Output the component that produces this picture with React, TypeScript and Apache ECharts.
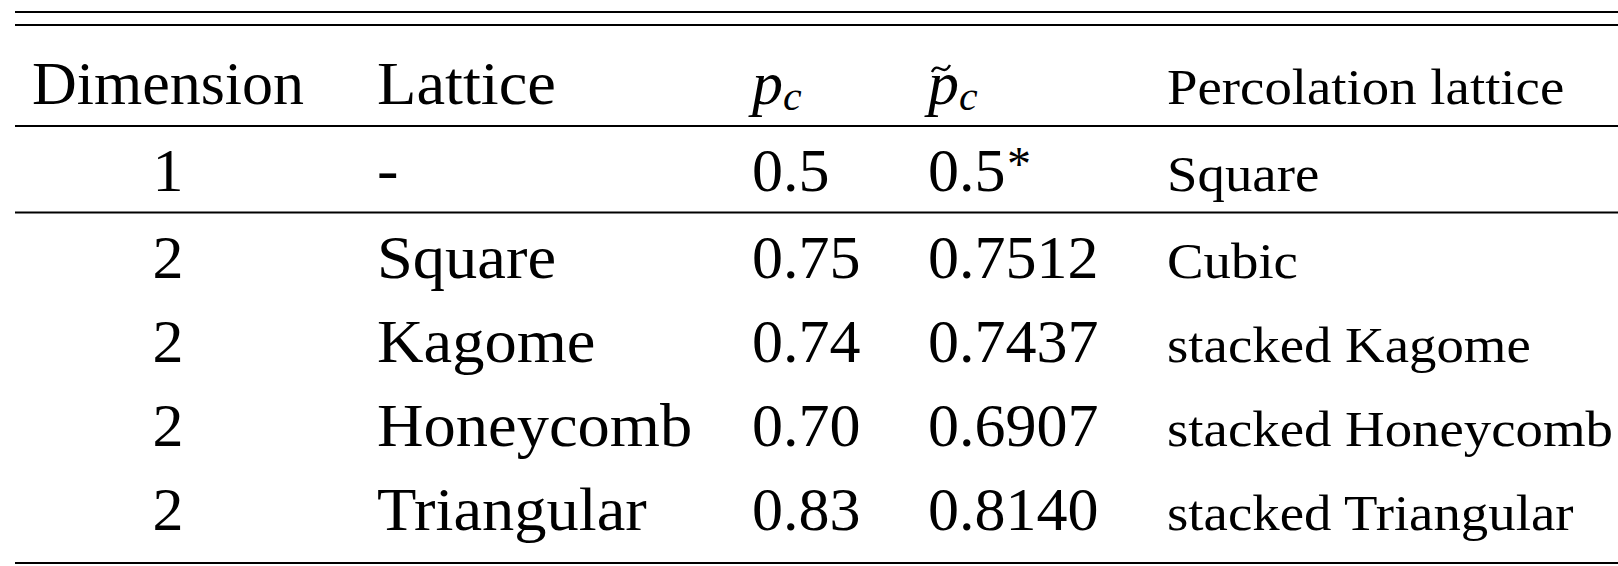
import React, { useEffect, useRef } from "react";
import * as echarts from "echarts";

// ---- table data ----
const dimensions = ["1", "2", "2", "2", "2"];
const lattices = ["-", "Square", "Kagome", "Honeycomb", "Triangular"];
const pcValues = ["0.5", "0.75", "0.74", "0.70", "0.83"];
const pcTildeValues = ["0.5", "0.7512", "0.7437", "0.6907", "0.8140"];
const pcTildeMarks = ["*", "", "", "", ""];
const percolationLattices = ["Square", "Cubic", "stacked Kagome", "stacked Honeycomb", "stacked Triangular"];
const headerLabels = ["Dimension", "Lattice", "p", "p", "Percolation lattice"];
const headerSubscripts = ["", "", "c", "c", ""];

// ---- layout ----
const W = 1618;
const H = 566;
const FAMILY = '"Liberation Serif", "Times New Roman", serif';
const FS = 62;
const FS_SMALL = 51;
const FS_SUB = 42;
const colX = [168, 377, 752, 928, 1167];
const colStretch = [1, 1.04, 1, 1, 1.075];
const headerBaseline = 104;
const rowBaselines = [190.7, 278, 362, 446, 530];
const ruleYs = [12, 25, 126, 212.5, 563];

function txt(text: string, x: number, baseline: number, fs: number, opts: any = {}) {
  const italic = opts.italic ? "italic " : "";
  return {
    type: "text",
    x,
    y: baseline - 0.3375 * fs,
    scaleX: opts.stretch || 1,
    silent: true,
    style: {
      text,
      font: `${italic}${fs}px ${FAMILY}`,
      fill: "#000",
      textAlign: opts.align || "left",
      textVerticalAlign: "middle",
    },
  };
}

function buildElements() {
  const els: any[] = [];
  // rules
  ruleYs.forEach((y) => {
    els.push({
      type: "line",
      silent: true,
      shape: { x1: 15, y1: y, x2: W, y2: y },
      style: { stroke: "#000", lineWidth: 2.2 },
    });
  });
  // header
  headerLabels.forEach((h, i) => {
    const isMath = headerSubscripts[i] !== "";
    const fs = i === 4 ? FS_SMALL : FS;
    if (isMath) {
      els.push(txt(h, colX[i], headerBaseline, FS, { italic: true }));
      els.push(txt(headerSubscripts[i], colX[i] + 31, headerBaseline + 6, FS_SUB, { italic: true }));
    } else {
      els.push(txt(h, colX[i], headerBaseline, fs, { align: i === 0 ? "center" : "left", stretch: colStretch[i] }));
    }
  });
  // tilde over second p
  const tx = colX[3] + 4;
  els.push({
    type: "bezierCurve",
    silent: true,
    shape: { x1: tx, y1: 72, cpx1: tx + 6, cpy1: 60, cpx2: tx + 11, cpy2: 78, x2: tx + 18, y2: 65 },
    style: { stroke: "#000", lineWidth: 2.4, fill: null },
  });
  // rows
  dimensions.forEach((d, r) => {
    const b = rowBaselines[r];
    els.push(txt(d, colX[0], b, FS, { align: "center" }));
    els.push(txt(lattices[r], colX[1], b, FS, { stretch: colStretch[1] }));
    els.push(txt(pcValues[r], colX[2], b, FS));
    els.push(txt(pcTildeValues[r], colX[3], b, FS));
    if (pcTildeMarks[r]) {
      els.push(txt(pcTildeMarks[r], colX[3] + 79, b - 11, 48));
    }
    els.push(txt(percolationLattices[r], colX[4], b, FS_SMALL, { stretch: colStretch[4] }));
  });
  return els;
}

export default function App() {
  const ref = useRef<HTMLDivElement>(null);
  useEffect(() => {
    if (!ref.current) return;
    const chart = echarts.init(ref.current, undefined, { renderer: "svg" });
    chart.setOption({
      animation: false,
      backgroundColor: "#fff",
      graphic: { elements: buildElements() },
    });
    return () => chart.dispose();
  }, []);
  return (
    <div
      ref={ref}
      style={{ position: "fixed", left: 0, top: 0, width: W, height: H, background: "#fff" }}
    />
  );
}
